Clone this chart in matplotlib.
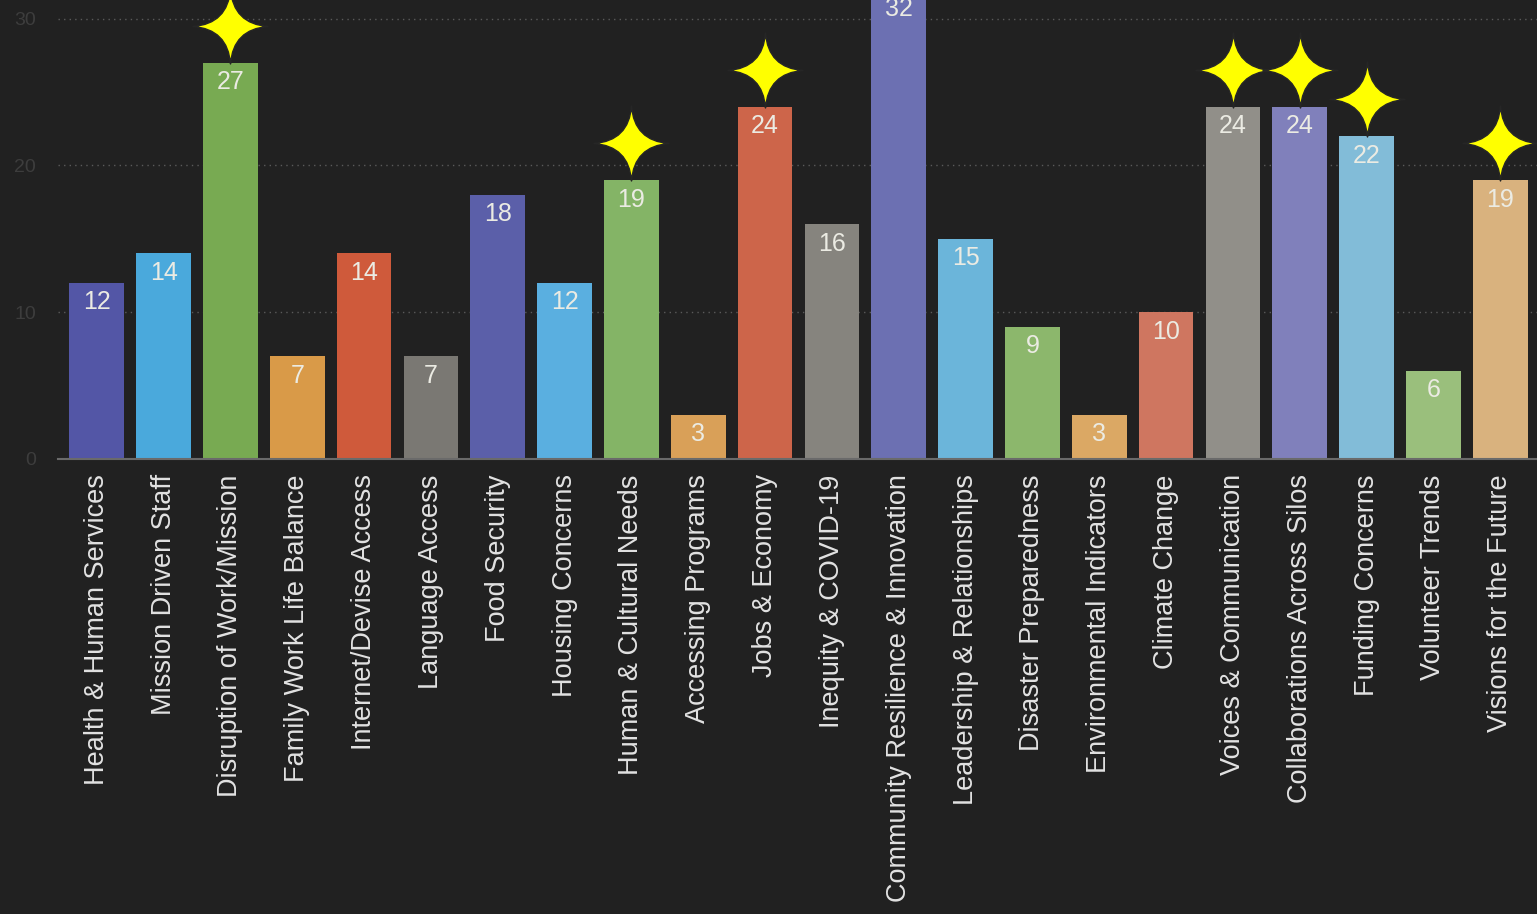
import matplotlib
matplotlib.use('Agg')
import matplotlib.pyplot as plt
from matplotlib.path import Path
import numpy as np

plt.rcParams['font.family'] = ['Liberation Sans', 'DejaVu Sans']

# 数据
categories = ['Health & Human Services', 'Mission Driven Staff', 'Disruption of Work/Mission',
              'Family Work Life Balance', 'Internet/Devise Access', 'Language Access',
              'Food Security', 'Housing Concerns', 'Human & Cultural Needs',
              'Accessing Programs', 'Jobs & Economy', 'Inequity & COVID-19',
              'Community Resilience & Innovation', 'Leadership & Relationships',
              'Disaster Preparedness', 'Environmental Indicators', 'Climate Change',
              'Voices & Communication', 'Collaborations Across Silos', 'Funding Concerns',
              'Volunteer Trends', 'Visions for the Future']
counts = [12, 14, 27, 7, 14, 7, 18, 12, 19, 3, 24, 16, 32, 15, 9, 3, 10, 24, 24, 22, 6, 19]
starred = ['Disruption of Work/Mission', 'Human & Cultural Needs', 'Jobs & Economy',
           'Voices & Communication', 'Collaborations Across Silos', 'Funding Concerns',
           'Visions for the Future']
colors = ['#5356a6', '#4aa9dc', '#78aa52', '#d99a48', '#cf5a3b', '#7a7873',
          '#5b5fa9', '#5aafe0', '#84b466', '#d9a058', '#cd654a', '#86847e',
          '#6c70b2', '#6bb5da', '#8cb76c', '#dba864', '#cf7660', '#918f89',
          '#8080bb', '#82bcd8', '#9abf7c', '#d9b27e']

bg = '#212121'
fig = plt.figure(figsize=(15.37, 9.14), dpi=100, facecolor=bg)
ax = fig.add_axes([58 / 1537, 1 - 459 / 914, 1 - 58 / 1537, 459 / 914])
ax.set_facecolor(bg)

x = np.arange(len(categories))
ax.bar(x, counts, width=0.82, color=colors, zorder=2)

# 数值标签
for xi, v in zip(x, counts):
    ax.annotate(str(v), (xi, v), xytext=(0, -14), textcoords='offset points',
                ha='center', va='center', color='#ebebe3', fontsize=18, zorder=3,
                annotation_clip=False)

# 四角星标记
c = 0.07
verts = [(0, 1), (c, c), (1, 0), (c, -c), (0, -1), (-c, -c), (-1, 0), (-c, c), (0, 1), (0, 1)]
codes = [Path.MOVETO, Path.CURVE3, Path.CURVE3, Path.CURVE3, Path.CURVE3,
         Path.CURVE3, Path.CURVE3, Path.CURVE3, Path.CURVE3, Path.CLOSEPOLY]
star = Path(verts, codes)
for xi, (cat, v) in enumerate(zip(categories, counts)):
    if cat in starred:
        ax.plot(xi, v + 2.5, marker=star, markersize=54, color='#ffff00',
                markeredgecolor='#262626', markeredgewidth=1.0, clip_on=False, zorder=5)

ax.set_xlim(-0.58, len(categories) - 0.45)
ax.set_ylim(0, 31.27)
ax.set_yticks([0, 10, 20, 30])
ax.yaxis.grid(True, linestyle=(0, (1, 3)), color='#5a5a5a', linewidth=1, zorder=0)
ax.set_xticks(x)
ax.set_xticklabels(categories, rotation=90, fontsize=19.5, color='#e2e2e2', va='top')
ax.tick_params(axis='x', length=0, pad=11)
ax.tick_params(axis='y', length=0, pad=16, labelsize=14, labelcolor='#3d3d3d')
for side in ['top', 'right', 'left']:
    ax.spines[side].set_visible(False)
ax.spines['bottom'].set_color('#6a6a6a')
ax.spines['bottom'].set_linewidth(1.5)

fig.savefig('out.png', dpi=100, facecolor=bg)
